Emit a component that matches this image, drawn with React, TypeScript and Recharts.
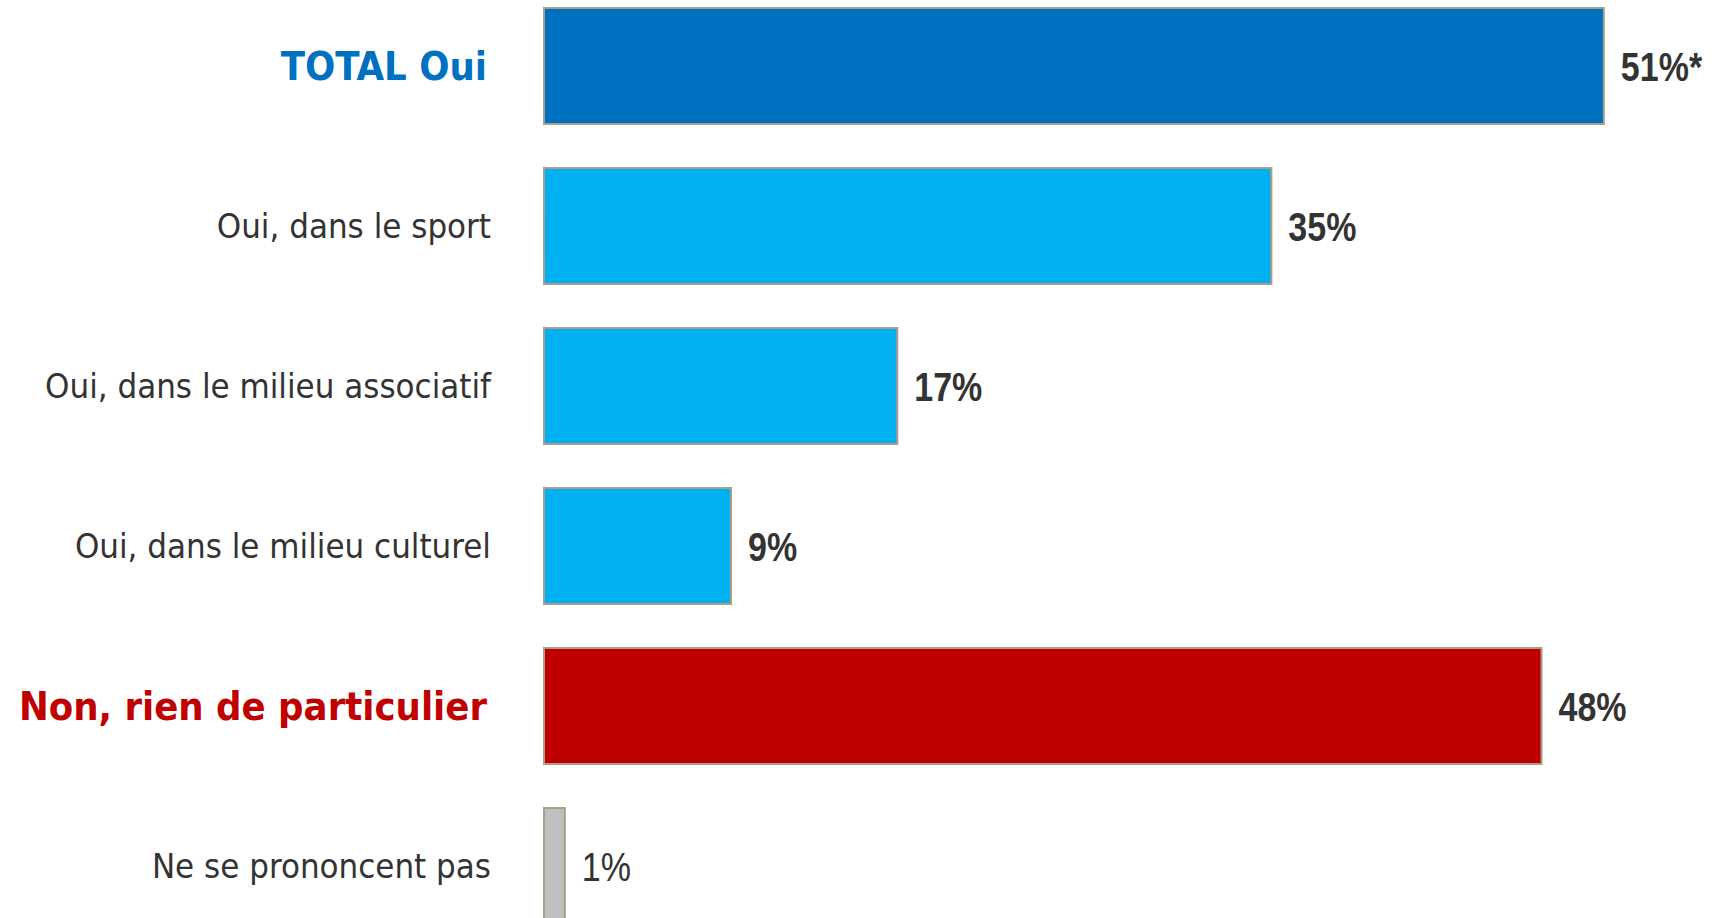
import { BarChart, Bar, XAxis, YAxis, Cell, LabelList } from "recharts";

const CATEGORIES = [
  "TOTAL Oui",
  "Oui, dans le sport",
  "Oui, dans le milieu associatif",
  "Oui, dans le milieu culturel",
  "Non, rien de particulier",
  "Ne se prononcent pas",
];
const VALUES = [51, 35, 17, 9, 48, 1];
const VALUE_LABELS = ["51%*", "35%", "17%", "9%", "48%", "1%"];

// styling per row (kept apart from the data)
const BAR_FILLS = ["#0070C0", "#00B0F0", "#00B0F0", "#00B0F0", "#C00000", "#BFBFBF"];
const LABEL_COLORS = ["#0070C0", "#333333", "#333333", "#333333", "#C00000", "#333333"];
const HIGHLIGHT = [true, false, false, false, true, false];
const BOLD_VALUE = [true, true, true, true, true, false];

const CAT_FONT = "'DejaVu Sans Condensed', 'DejaVu Sans', sans-serif";
const VAL_FONT = "'Liberation Sans', Arial, sans-serif";

const data = CATEGORIES.map((name, i) => ({ name, value: VALUES[i] }));

function CategoryTick(props: any) {
  const { x, y, payload } = props;
  const i = CATEGORIES.indexOf(payload.value);
  const hl = HIGHLIGHT[i];
  return (
    <text
      x={hl ? x - 4 : x}
      y={y}
      textAnchor="end"
      dominantBaseline="central"
      fontFamily={CAT_FONT}
      fontSize={hl ? 39.6 : 34.5}
      fontWeight={hl ? 700 : 400}
      fill={LABEL_COLORS[i]}
    >
      {payload.value}
    </text>
  );
}

// narrow look of the original value labels: squeeze horizontally
function ValueLabel(props: any) {
  const { x, y, width, height, index } = props;
  const tx = x + width + 17;
  const ty = y + height / 2 + 1;
  return (
    <text
      transform={`translate(${tx},${ty}) scale(0.85,1)`}
      x={0}
      y={0}
      dominantBaseline="central"
      fontFamily={VAL_FONT}
      fontSize={40}
      fontWeight={BOLD_VALUE[index] ? 700 : 400}
      fill="#333333"
    >
      {VALUE_LABELS[index]}
    </text>
  );
}

export default function App() {
  return (
    <div style={{ position: "absolute", left: 0, top: -14, width: 1718, height: 960 }}>
      <BarChart
        width={1718}
        height={960}
        data={data}
        layout="vertical"
        margin={{ top: 0, right: 31, bottom: 0, left: 0 }}
        barCategoryGap={22}
      >
        <XAxis type="number" domain={[0, 55]} hide />
        <YAxis
          type="category"
          dataKey="name"
          width={544}
          axisLine={false}
          tickLine={false}
          tickSize={0}
          tickMargin={53}
          interval={0}
          tick={<CategoryTick />}
        />
        <Bar dataKey="value" stroke="#A89F86" strokeWidth={2} isAnimationActive={false}>
          {data.map((d, i) => (
            <Cell key={d.name} fill={BAR_FILLS[i]} />
          ))}
          <LabelList dataKey="value" content={<ValueLabel />} />
        </Bar>
      </BarChart>
    </div>
  );
}
